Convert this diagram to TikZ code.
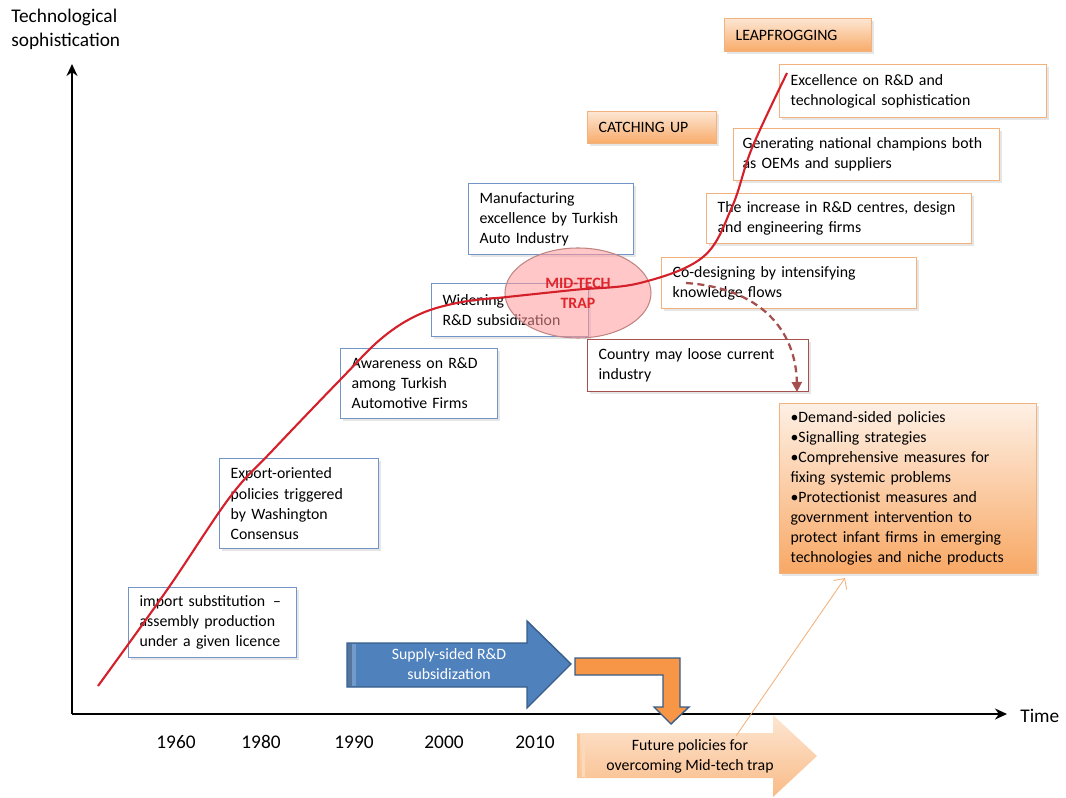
\documentclass[tikz,border=0pt]{standalone}
\usepackage{fontspec}
\setmainfont{Carlito}
\usetikzlibrary{arrows.meta,shadows}

\definecolor{boxblue}{HTML}{7394C6}
\definecolor{boxorange}{HTML}{F2B27E}
\definecolor{boxmaroon}{HTML}{A5504E}
\definecolor{curvered}{HTML}{D4202A}
\definecolor{arrowblue}{HTML}{4F81BD}
\definecolor{arrowblueline}{HTML}{385D8A}
\definecolor{arroworange}{HTML}{F79646}
\definecolor{peachlight}{HTML}{FDE6D3}
\definecolor{peachdark}{HTML}{F8AA68}
\definecolor{traptext}{HTML}{E0262C}

\tikzset{
  txtbox/.style={fill=white,line width=0.7pt,anchor=north west,align=left,
    inner xsep=2.2mm,inner ysep=0.8mm,
    drop shadow={shadow xshift=0.5mm,shadow yshift=-0.5mm,opacity=0.2}},
  bluebox/.style={txtbox,draw=boxblue},
  orgbox/.style={txtbox,draw=boxorange},
  lossbox/.style={txtbox,draw=boxmaroon},
  stagebox/.style={txtbox,draw=boxorange,top color=peachlight,bottom color=peachdark},
  axis/.style={line width=1.3pt,-{Stealth[length=2.4mm,width=2.2mm]}},
  yearlbl/.style={font=\fontsize{11}{13}\selectfont},
}

\begin{document}
\begin{tikzpicture}[x=0.2mm,y=-0.2mm,font=\fontsize{9}{11.4}\selectfont]
\useasboundingbox (0,0) rectangle (1066,798);

% axes
\coordinate (origin) at (72,714);
\coordinate (ytop) at (72,64);
\coordinate (xend) at (1007,714);
\draw[axis] (origin) -- (ytop);
\draw[axis] (origin) -- (xend);
\node[anchor=north west,align=left,inner sep=0pt,font=\fontsize{11}{13.6}\selectfont]
  (ylabel) at (11,9) {Technological\\sophistication};
\node[anchor=west,inner sep=0pt,font=\fontsize{11}{13}\selectfont] (xlabel) at (1020,716) {Time};
\foreach \yr/\xx in {1960/176,1980/261,1990/354,2000/444,2010/535}
  \node[yearlbl] (y\yr) at (\xx,742) {\yr};

% stages along the path
\node[bluebox,text width=29.2mm,minimum height=14mm] (import) at (128,587)
  {import substitution \,--\\assembly production\\under a given licence};
\node[bluebox,text width=27.4mm,minimum height=18mm] (export) at (219,458)
  {Export-oriented\\policies triggered\\by Washington\\Consensus};
\node[bluebox,text width=27mm,minimum height=14mm] (aware) at (340,348)
  {Awareness on R\&D\\among Turkish\\Automotive Firms};
\node[bluebox,text width=27.0mm,minimum height=10.6mm] (widen) at (431,283)
  {Widening\\R\&D subsidization};
\node[bluebox,text width=28.6mm,minimum height=14.2mm] (manuf) at (468,183)
  {Manufacturing\\excellence by Turkish\\Auto Industry};
\node[orgbox,text width=46.6mm,minimum height=10.2mm] (codesign) at (661,257)
  {Co-designing by intensifying\\knowledge flows};
\node[orgbox,text width=48.6mm,minimum height=10mm] (centres) at (706,193)
  {The increase in R\&D centres, design\\and engineering firms};
\node[orgbox,inner xsep=1.8mm,text width=49.6mm,minimum height=10.4mm] (champions) at (733,128)
  {Generating national\ champions both\\as OEMs and suppliers};
\node[orgbox,text width=49.0mm,minimum height=10.6mm] (excel) at (779,64)
  {Excellence on R\&D and\\technological sophistication};
\node[lossbox,text width=39.8mm,minimum height=10.4mm] (loss) at (587,339)
  {Country may loose current\\industry};
\node[stagebox,text width=21.4mm,minimum height=6.4mm] (catch) at (587,111) {CATCHING UP};
\node[stagebox,text width=25.0mm,minimum height=6.6mm] (leap) at (724,18) {LEAPFROGGING};
\node[stagebox,text width=47mm,minimum height=34mm,
  top color=peachlight!60!white,bottom color=peachdark!90!arroworange] (policy) at (779,403)
  {\textbullet Demand-sided policies\\\textbullet Signalling strategies\\\textbullet Comprehensive measures for\\fixing\ systemic\ problems\\\textbullet Protectionist measures and\\government intervention to\\protect infant firms in emerging\\technologies and niche products};

% the trap
\fill[red!40,opacity=0.55] (578,293) ellipse (73 and 45);
\draw[boxmaroon!70,line width=0.6pt] (578,293) ellipse (73 and 45);
\node[text=traptext,font=\fontsize{9}{11.4}\selectfont\bfseries,align=center] (trap) at (578,293)
  {MID-TECH\\TRAP};

% block arrows
\fill[arrowblue,draw=arrowblueline,line width=0.8pt]
  (347,643) -- (527,643) -- (527,621) -- (571,664) -- (527,708) -- (527,687) -- (347,687) -- cycle;
\fill[arrowblueline!85] (348,644) rectangle (352,686);
\fill[arrowblue!80!white] (352,644) rectangle (356,686);
\node[text=white,align=center] (supply) at (449,664) {Supply-sided R\&D\\subsidization};

\filldraw[fill=arroworange,draw=arrowblueline,line width=0.8pt]
  (575,658) -- (680,658) -- (680,707) -- (689,707) -- (671,724) -- (654,707)
  -- (663,707) -- (663,675) -- (575,675) -- cycle;

\shade[top color=peachlight,bottom color=peachdark!80!white]
  (577,733) -- (773,733) -- (773,715) -- (817,756) -- (773,797) -- (773,778) -- (577,778) -- cycle;
\fill[peachdark!70!white] (577,734) rectangle (580,777);
\fill[peachdark!45!white] (582,734) rectangle (585,777);
\node[align=center] (future) at (690,756) {Future policies for\\overcoming Mid-tech trap};

% links
\coordinate (futsrc) at (736,736);
\coordinate (policyin) at (845,578);
\draw[boxorange,line width=0.5pt,-{Straight Barb[length=1.6mm]}] (futsrc) -- (policyin);
\coordinate (codesrc) at (686,283);
\coordinate (losstip) at (797,392);
\draw[boxmaroon,line width=1.3pt,dash pattern=on 4pt off 2.5pt,-{Triangle[length=2mm,width=2mm]}]
  (codesrc) .. controls (760,288) and (796,330) .. (losstip);

% development path
\draw[curvered,line width=1.2pt] plot[smooth,tension=0.6] coordinates {
  (98,686) (167,590) (230,497) (273,450) (340,380) (382,338) (420,314) (462,302)
  (507,297) (573,290) (640,283) (703,257) (732,207) (752,148) (787,73)};
\end{tikzpicture}
\end{document}
